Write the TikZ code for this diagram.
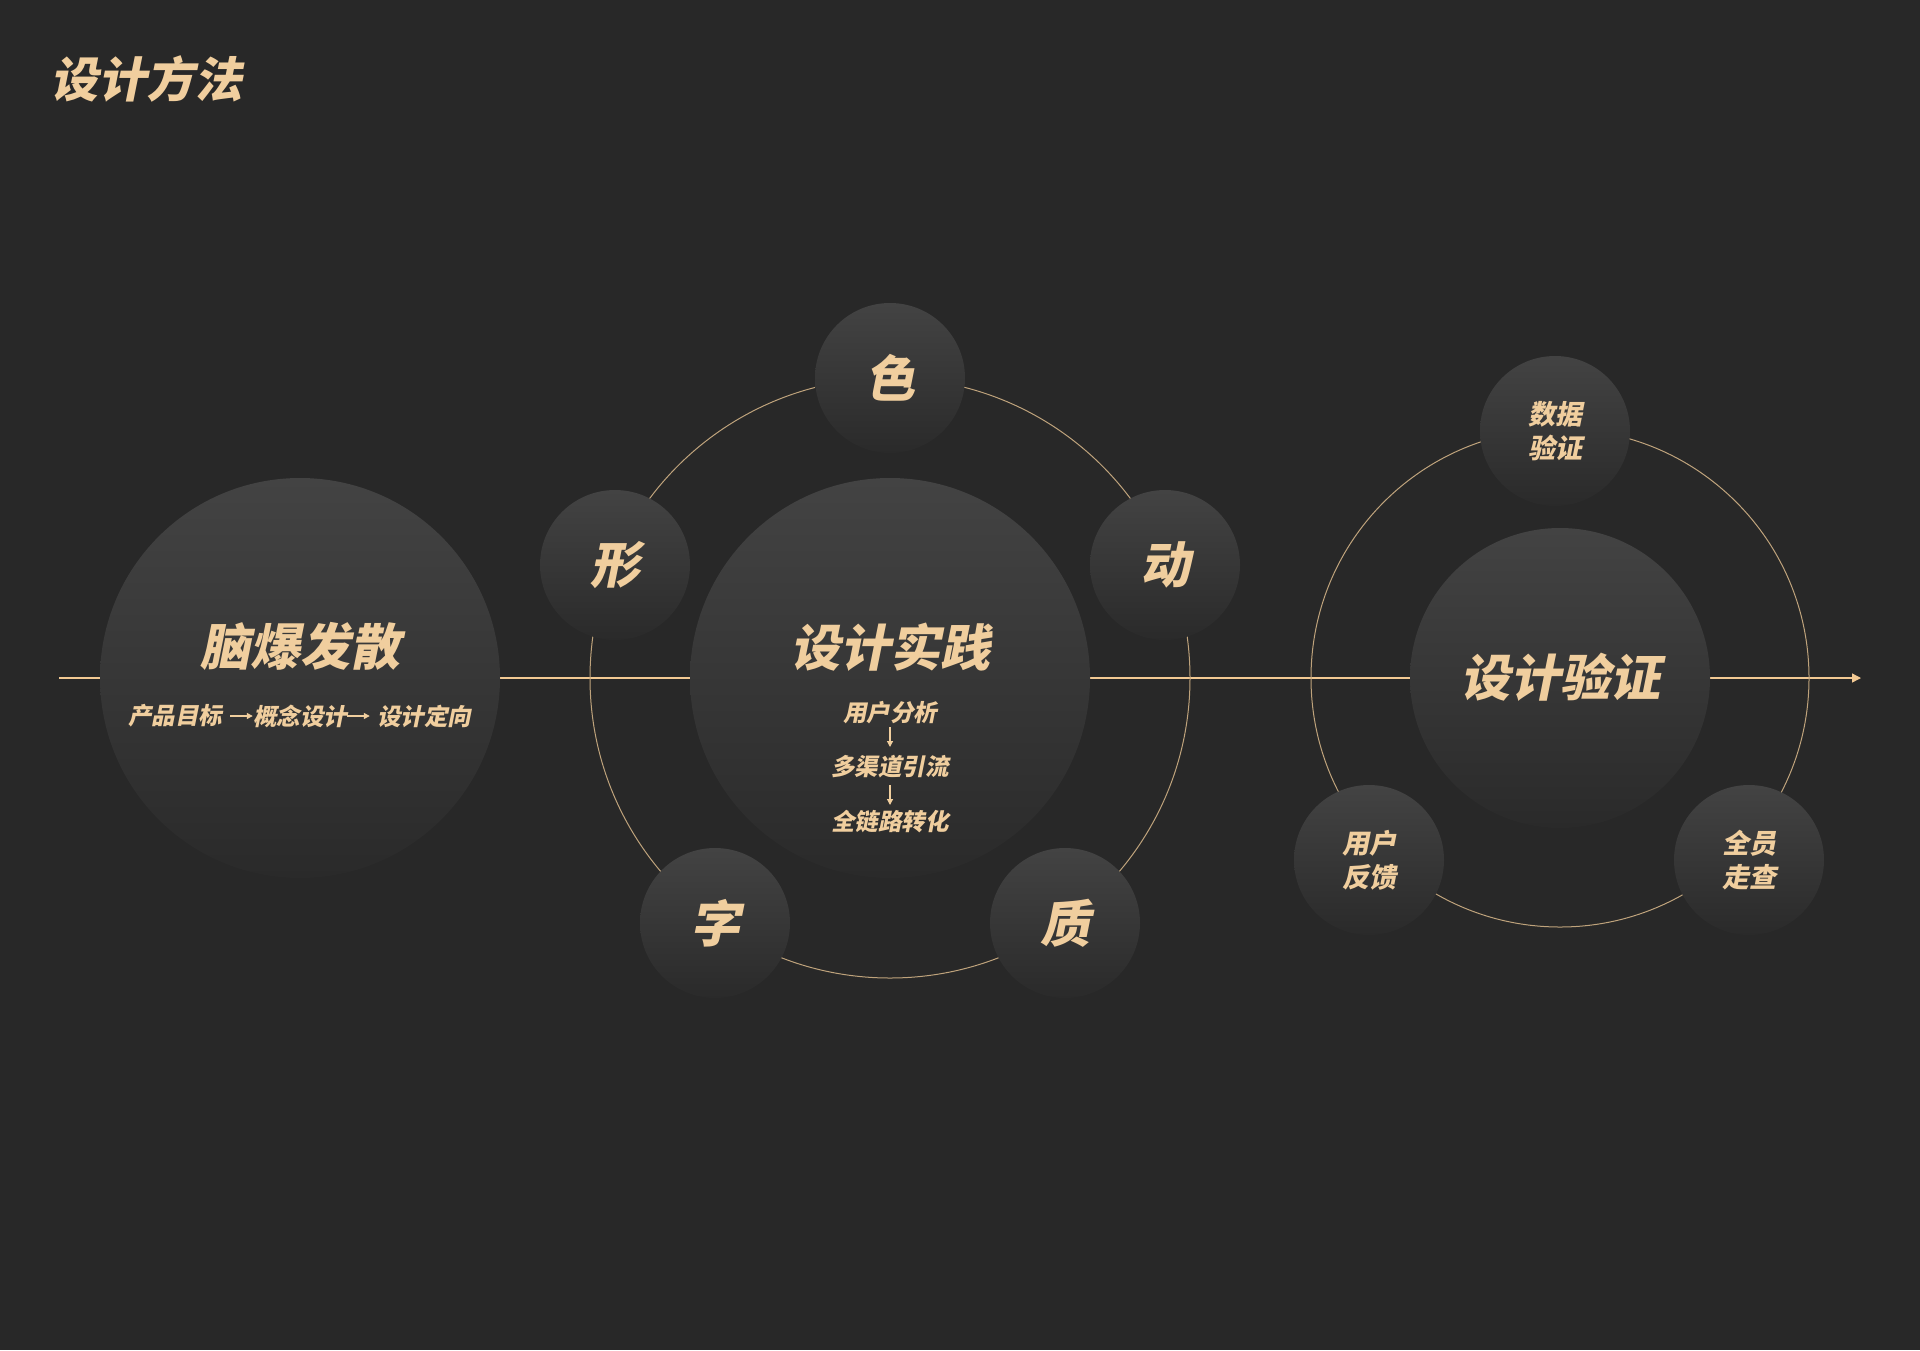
\documentclass[tikz,border=0pt]{standalone}
\usepackage{fontspec}
\setmainfont{Noto Sans CJK SC}[FakeSlant=0.2]
\usetikzlibrary{arrows.meta}
\definecolor{bg}{HTML}{282828}
\definecolor{gold}{HTML}{F0CE9E}
\definecolor{axisc}{HTML}{F2C993}
\definecolor{orbitc}{HTML}{BFA37C}
\definecolor{ctop}{HTML}{434343}
\definecolor{cbot}{HTML}{2A2A2A}
\begin{document}
\begin{tikzpicture}[x=1pt,y=-1pt,
  ball/.style={circle, inner sep=0pt, top color=ctop, bottom color=cbot, draw=none},
  big/.style={ball, minimum size=400pt},
  mid/.style={ball, minimum size=300pt},
  small/.style={ball, minimum size=150pt, text=gold, font=\bfseries\fontsize{50}{50}\selectfont},
  small2/.style={ball, minimum size=150pt, text=gold, align=center, font=\bfseries\fontsize{27}{34}\selectfont},
  lbl/.style={text=gold, inner sep=0pt},
  head/.style={lbl, font=\bfseries\fontsize{50}{50}\selectfont},
  sub/.style={lbl, font=\bfseries\fontsize{23.5}{24}\selectfont},
  axis/.style={draw=axisc, line width=1.3pt},
  orbit/.style={draw=orbitc, line width=1pt},
  arr/.style={draw=gold, line width=1.2pt, -{Triangle[length=6pt,width=6pt]}}
]
\useasboundingbox (0,0) rectangle (1920,1350);
\fill[bg] (0,0) rectangle (1920,1350);

% title
\node[lbl, anchor=west, font=\bfseries\fontsize{48}{48}\selectfont] (title) at (50,79) {设计方法};

% axis
\coordinate (axstart) at (59,678);
\coordinate (axend) at (1861,678);
\draw[axis, -{Triangle[length=9pt,width=9pt]}] (axstart) -- (axend);

% centres
\coordinate (Lc) at (300,678);
\coordinate (Mc) at (890,678);
\coordinate (Rc) at (1560,678);

% orbits
\draw[orbit] (Mc) circle[radius=300];
\draw[orbit] (Rc) circle[radius=249];

% big circles
\node[big] (L) at (Lc) {};
\node[big] (M) at (Mc) {};
\node[mid] (R) at (Rc) {};

% satellites of middle
\node[small] (se) at (890,378) {色};
\node[small] (xing) at (615,565) {形};
\node[small] (dong) at (1165,565) {动};
\node[small] (zi) at (715,923) {字};
\node[small] (zhi) at (1065,923) {质};

% satellites of right
\node[small2] (sj) at (1555,431) {数据\\验证};
\node[small2] (yh) at (1369,860) {用户\\反馈};
\node[small2] (qy) at (1749,860) {全员\\走查};

% left labels
\node[head] (Lt) at (300,646) {脑爆发散};
\node[sub] (a1) at (175,716) {产品目标};
\node[sub] (a2) at (300,716) {概念设计};
\node[sub] (a3) at (424,716) {设计定向};
\draw[arr] ([xshift=8pt]a1.east) -- (a2.west);
\draw[arr] (a2.east) -- ([xshift=-7pt]a3.west);

% middle labels
\node[head] (Mt) at (890,647) {设计实践};
\node[sub] (u1) at (890,713) {用户分析};
\node[sub] (u2) at (890,767) {多渠道引流};
\node[sub] (u3) at (890,822) {全链路转化};
\draw[arr] ([yshift=-14pt]u1.center) -- ([yshift=20pt]u2.center);
\draw[arr] ([yshift=-18pt]u2.center) -- ([yshift=17pt]u3.center);

% right label
\node[head] (Rt) at (1560,677) {设计验证};
\end{tikzpicture}
\end{document}
